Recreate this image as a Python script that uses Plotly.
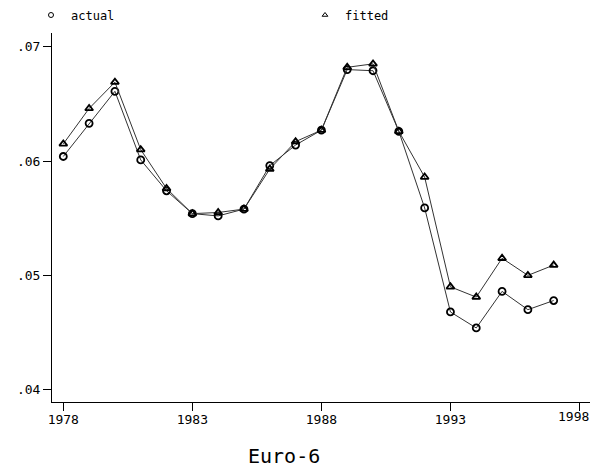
import plotly.graph_objects as go

years = list(range(1978, 1998))
actual = [0.0604, 0.0633, 0.0661, 0.0601, 0.0574, 0.0554, 0.0552, 0.0558, 0.0596, 0.0614,
          0.0627, 0.0680, 0.0679, 0.0626, 0.0559, 0.0468, 0.0454, 0.0486, 0.0470, 0.0478]
fitted = [0.0615, 0.0646, 0.0669, 0.0610, 0.0576, 0.0554, 0.0555, 0.0558, 0.0593, 0.0617,
          0.0627, 0.0682, 0.0685, 0.0626, 0.0586, 0.0490, 0.0481, 0.0515, 0.0500, 0.0509]
x_ticks = [1978, 1983, 1988, 1993, 1998]
x_tick_labels = ["1978", "1983", "1988", "1993", "1998"]
y_ticks = [0.04, 0.05, 0.06, 0.07]
y_tick_labels = [".04", ".05", ".06", ".07"]

FONT = "DejaVu Sans Mono"

fig = go.Figure()
fig.add_trace(go.Scatter(x=years, y=actual, mode="lines+markers", name="actual",
                         line=dict(color="#333333", width=1),
                         marker=dict(symbol="circle-open", size=7, color="black", line=dict(width=1.8)),
                         showlegend=False))
fig.add_trace(go.Scatter(x=years, y=fitted, mode="lines+markers", name="fitted",
                         line=dict(color="#333333", width=1),
                         marker=dict(symbol="triangle-up-open", size=7, color="black", line=dict(width=1.8)),
                         showlegend=False))
# legend entries (marker only)
fig.add_trace(go.Scatter(x=[None], y=[None], mode="markers", name="actual", legend="legend",
                         marker=dict(symbol="circle-open", size=5, color="black", line=dict(width=1))))
fig.add_trace(go.Scatter(x=[None], y=[None], mode="markers", name="fitted", legend="legend2",
                         marker=dict(symbol="triangle-up-open", size=5, color="black", line=dict(width=1))))

leg_common = dict(orientation="h", xref="container", yref="container", xanchor="left", yanchor="middle",
                  itemwidth=30, font=dict(family=FONT, size=12), bgcolor="rgba(0,0,0,0)")

# last tick label is drawn right-aligned to the edge so it is not clipped
tick_text = x_tick_labels[:-1] + [""]

fig.update_layout(
    width=590, height=472,
    margin=dict(l=52, r=0, t=33, b=70, autoexpand=False),
    paper_bgcolor="white", plot_bgcolor="white",
    font=dict(family=FONT, size=12, color="black"),
    legend=dict(x=31 / 590, y=1 - 15 / 472, **leg_common),
    legend2=dict(x=305 / 590, y=1 - 15 / 472, **leg_common),
    xaxis=dict(range=[1977.562, 1998.407], tickvals=x_ticks, ticktext=tick_text,
               showgrid=False, zeroline=False, showline=True, linecolor="black", linewidth=1,
               ticks="outside", ticklen=8, tickcolor="black", tickwidth=1,
               ticklabelstandoff=-3, tickfont=dict(family=FONT, size=13)),
    yaxis=dict(range=[0.038925, 0.0712], tickvals=y_ticks, ticktext=y_tick_labels,
               showgrid=False, zeroline=False, showline=True, linecolor="black", linewidth=1,
               ticks="outside", ticklen=8, tickcolor="black", tickwidth=1,
               tickfont=dict(family=FONT, size=13)),
    annotations=[
        dict(text="Euro-6", xref="paper", yref="paper",
             x=(284 - 52) / 538, y=(402 - 456) / 369, xanchor="center", yanchor="middle",
             showarrow=False, font=dict(family=FONT, size=20)),
        dict(text=x_tick_labels[-1], xref="paper", yref="paper", x=1.0, y=(402 - 417) / 369,
             xanchor="right", yanchor="middle", showarrow=False, borderpad=0,
             font=dict(family=FONT, size=13)),
    ],
)

fig.write_html("out.html")
